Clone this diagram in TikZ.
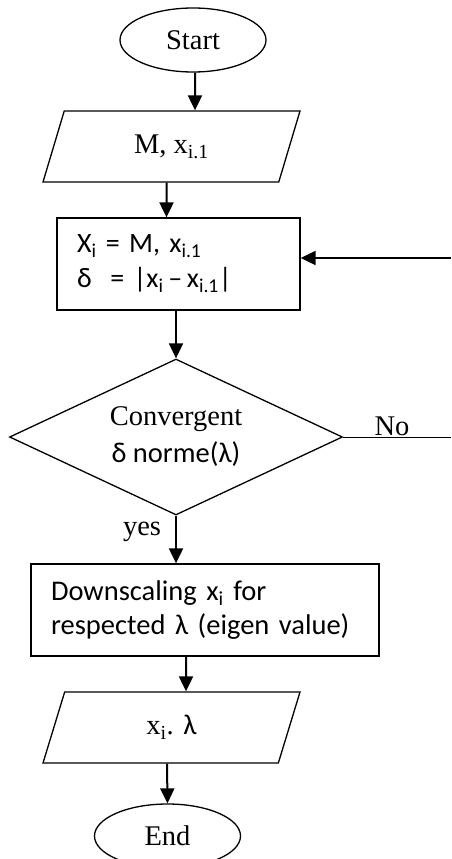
\documentclass[tikz,border=0pt]{standalone}
\usepackage{fontspec}
\setmainfont{Liberation Serif}
\newfontfamily\calibri{Carlito}
\usetikzlibrary{shapes.geometric,arrows.meta}
\newcommand{\serifText}{\fontsize{28.5}{37}\selectfont}
\newcommand{\sansText}{\calibri\fontsize{28.5}{34}\selectfont}
\tikzstyle{chart} = [x=1pt, y=-1pt]
\tikzstyle{termStyle} = [draw, ellipse, line width=1.3pt, minimum width=146pt, minimum height=64pt, inner sep=0pt, font=\serifText]
\tikzstyle{ioStyle} = [draw, trapezium, trapezium left angle=48, trapezium right angle=132, trapezium stretches body, line width=1.3pt, minimum width=257pt, minimum height=71pt, inner sep=0pt, font=\serifText]
\tikzstyle{procStyle} = [draw, rectangle, line width=1.3pt, minimum height=92pt, inner xsep=20pt, inner ysep=0pt, align=left, font=\sansText]
\tikzstyle{decisionStyle} = [draw, diamond, aspect=2.13, line width=1.3pt, minimum width=333pt, minimum height=156pt, inner sep=0pt, align=center, font=\serifText]
\tikzstyle{labelStyle} = [inner sep=0pt, font=\serifText]
\tikzstyle{flowArrow} = [line width=2pt, -{Triangle[width=14pt,length=15pt]}]
\tikzstyle{flowLine} = [line width=1pt]

\begin{document}
\begin{tikzpicture}[chart]
    \useasboundingbox (0,0) rectangle (451,859);
    \node [termStyle] (start) at (193,40) {Start};
    \node [ioStyle] (in1) at (171.5,146.5) {M, x\textsubscript{i.1}};
    \node [procStyle, text width=203pt, font=\calibri\fontsize{28}{35}\selectfont] (box1) at (178.5,264)
        {X\textsubscript{i} = M, x\textsubscript{i.1}\\δ\ \ = |x\textsubscript{i}\,–\,x\textsubscript{i.1}|};
    \node [decisionStyle] (dia) at (176,437) {Convergent\\{\sansText δ norme(λ)}};
    \node [procStyle, text width=308pt] (box2) at (205,610)
        {Downscaling x\textsubscript{i} for\\respected λ (eigen value)};
    \node [ioStyle] (out) at (171.5,727.5) {x\textsubscript{i}. {\sansText λ}};
    \node [termStyle] (end) at (167.5,836) {End};
    \node [labelStyle, anchor=base] (noLabel) at (392,435) {No};
    \node [labelStyle, anchor=base] (yesLabel) at (142,535) {yes};
    \coordinate (noEnd) at (451,437);
    \coordinate (loopIn) at (451,258);
    \draw [flowArrow] ([xshift=2pt]start.south) -- ([xshift=23.5pt]in1.north);
    \draw [flowArrow] ([xshift=-5pt]in1.south) -- ([xshift=-12pt]box1.north);
    \draw [flowArrow] (box1.south -| dia.north) -- (dia.north);
    \draw [flowArrow] (dia.south) -- (dia.south |- box2.north);
    \draw [flowArrow] ([xshift=-19pt]box2.south) -- ([xshift=14.5pt]out.north);
    \draw [flowArrow] ([xshift=-4.5pt]out.south) -- (end.north);
    \draw [flowLine] (dia.east) -- (noEnd);
    \draw [flowArrow] (loopIn) -- (loopIn -| box1.east);
\end{tikzpicture}
\end{document}
